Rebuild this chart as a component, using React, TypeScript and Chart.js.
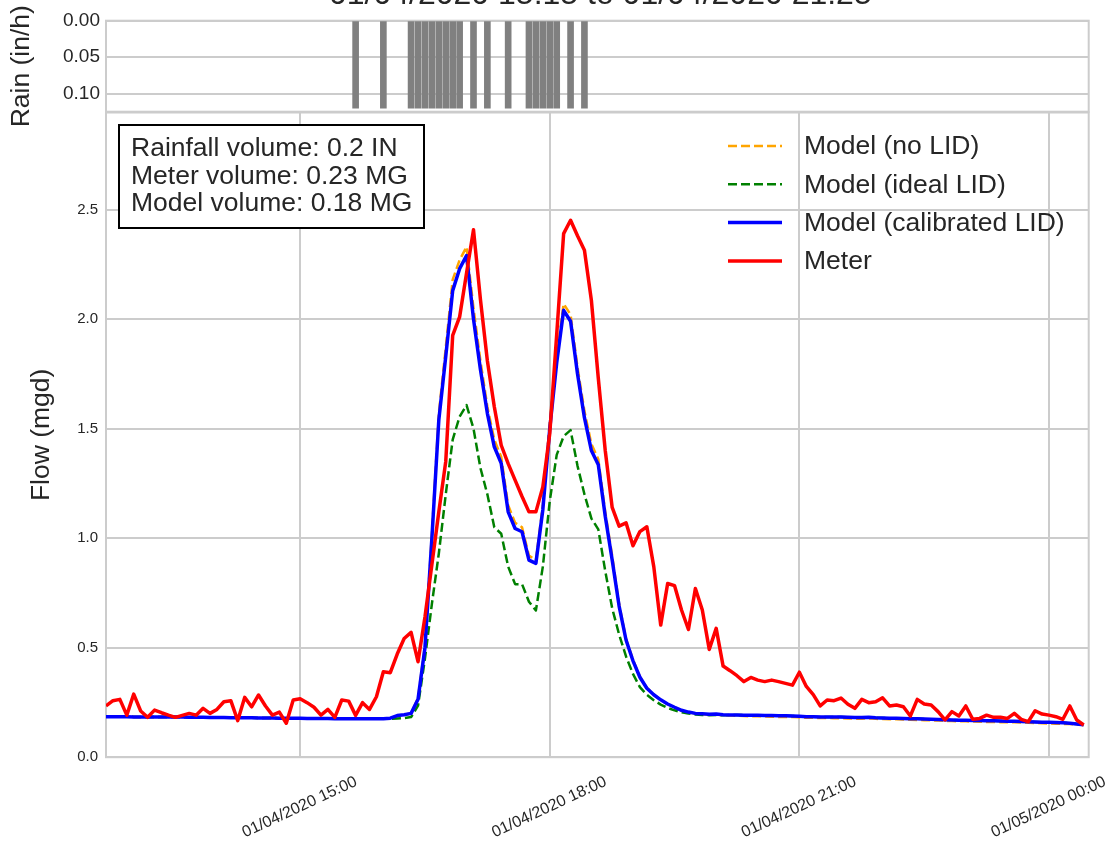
import React, { useEffect, useRef } from "react";
import { Chart, registerables } from "chart.js";

Chart.register(...registerables);

const FONT = "'Liberation Sans', Arial, Helvetica, sans-serif";
const TEXT_COLOR = "#262626";
const GRID_COLOR = "#cccccc";

const titleText = "01/04/2020 15:15 to 01/04/2020 21:25";

// Flow series: 5-minute samples starting 01/04/2020 12:40
const flowStart = "12:40";
const flowStepMinutes = 5;

const meterFlow = [
  0.234, 0.258, 0.264, 0.192, 0.288, 0.211, 0.182, 0.215, 0.203, 0.192,
  0.182, 0.191, 0.200, 0.192, 0.223, 0.200, 0.218, 0.253, 0.258, 0.167,
  0.273, 0.230, 0.284, 0.234, 0.192, 0.206, 0.155, 0.261, 0.267, 0.249,
  0.228, 0.192, 0.218, 0.182, 0.261, 0.256, 0.191, 0.249, 0.218, 0.276,
  0.390, 0.386, 0.471, 0.542, 0.570, 0.436, 0.640, 0.880, 1.120, 1.350,
  1.926, 2.010, 2.210, 2.408, 2.090, 1.810, 1.600, 1.424, 1.340, 1.265,
  1.190, 1.120, 1.120, 1.234, 1.478, 1.930, 2.390, 2.451, 2.380, 2.314,
  2.086, 1.730, 1.400, 1.140, 1.055, 1.070, 0.965, 1.030, 1.052, 0.870,
  0.603, 0.793, 0.783, 0.672, 0.583, 0.770, 0.672, 0.492, 0.588, 0.416,
  0.395, 0.372, 0.345, 0.364, 0.352, 0.345, 0.352, 0.345, 0.337, 0.329,
  0.388, 0.323, 0.286, 0.234, 0.261, 0.258, 0.270, 0.242, 0.223, 0.264,
  0.249, 0.253, 0.271, 0.234, 0.238, 0.230, 0.188, 0.264, 0.243, 0.238,
  0.208, 0.170, 0.208, 0.188, 0.234, 0.173, 0.177, 0.192, 0.182, 0.182,
  0.177, 0.200, 0.173, 0.162, 0.212, 0.197, 0.192, 0.185, 0.173, 0.234,
  0.170, 0.147,
];

const calibratedFlow = [
  0.185, 0.185, 0.185, 0.185, 0.184, 0.184, 0.184, 0.184, 0.183, 0.183,
  0.183, 0.183, 0.182, 0.182, 0.182, 0.181, 0.181, 0.181, 0.180, 0.180,
  0.180, 0.180, 0.179, 0.179, 0.179, 0.178, 0.178, 0.178, 0.178, 0.177,
  0.177, 0.177, 0.177, 0.176, 0.176, 0.176, 0.176, 0.176, 0.175, 0.175,
  0.175, 0.178, 0.190, 0.194, 0.200, 0.265, 0.500, 1.000, 1.540, 1.830,
  2.130, 2.230, 2.290, 2.000, 1.770, 1.570, 1.417, 1.341, 1.120, 1.044,
  1.029, 0.900, 0.885, 1.130, 1.500, 1.800, 2.040, 1.990, 1.750, 1.550,
  1.400, 1.335, 1.100, 0.900, 0.690, 0.535, 0.440, 0.365, 0.315, 0.285,
  0.262, 0.243, 0.228, 0.214, 0.206, 0.200, 0.198, 0.196, 0.197, 0.194,
  0.193, 0.193, 0.192, 0.191, 0.191, 0.190, 0.190, 0.189, 0.189, 0.188,
  0.187, 0.185, 0.185, 0.184, 0.184, 0.183, 0.183, 0.182, 0.181, 0.181,
  0.182, 0.180, 0.179, 0.178, 0.178, 0.177, 0.176, 0.175, 0.174, 0.173,
  0.172, 0.171, 0.170, 0.169, 0.169, 0.168, 0.167, 0.166, 0.166, 0.165,
  0.164, 0.164, 0.163, 0.162, 0.161, 0.160, 0.159, 0.158, 0.157, 0.155,
  0.152, 0.148,
];

const idealFlow = [
  0.185, 0.185, 0.185, 0.185, 0.184, 0.184, 0.184, 0.184, 0.183, 0.183,
  0.183, 0.183, 0.182, 0.182, 0.182, 0.181, 0.181, 0.181, 0.180, 0.180,
  0.180, 0.180, 0.179, 0.179, 0.179, 0.178, 0.178, 0.178, 0.178, 0.177,
  0.177, 0.177, 0.177, 0.176, 0.176, 0.176, 0.176, 0.176, 0.175, 0.175,
  0.175, 0.175, 0.177, 0.179, 0.183, 0.235, 0.450, 0.700, 0.930, 1.200,
  1.450, 1.555, 1.607, 1.500, 1.320, 1.200, 1.050, 1.020, 0.870, 0.790,
  0.790, 0.710, 0.670, 0.870, 1.170, 1.380, 1.465, 1.493, 1.330, 1.200,
  1.090, 1.040, 0.850, 0.680, 0.560, 0.460, 0.380, 0.320, 0.285, 0.260,
  0.240, 0.225, 0.214, 0.205, 0.199, 0.195, 0.193, 0.192, 0.193, 0.191,
  0.193, 0.193, 0.192, 0.191, 0.191, 0.190, 0.190, 0.189, 0.189, 0.188,
  0.187, 0.185, 0.185, 0.184, 0.184, 0.183, 0.183, 0.182, 0.181, 0.181,
  0.182, 0.180, 0.179, 0.178, 0.178, 0.177, 0.176, 0.175, 0.174, 0.173,
  0.172, 0.171, 0.170, 0.169, 0.169, 0.168, 0.167, 0.166, 0.166, 0.165,
  0.164, 0.164, 0.163, 0.162, 0.161, 0.160, 0.159, 0.158, 0.157, 0.155,
  0.152, 0.148,
];

const noLidFlow = [
  0.185, 0.185, 0.185, 0.185, 0.184, 0.184, 0.184, 0.184, 0.183, 0.183,
  0.183, 0.183, 0.182, 0.182, 0.182, 0.181, 0.181, 0.181, 0.180, 0.180,
  0.180, 0.180, 0.179, 0.179, 0.179, 0.178, 0.178, 0.178, 0.178, 0.177,
  0.177, 0.177, 0.177, 0.176, 0.176, 0.176, 0.176, 0.176, 0.175, 0.175,
  0.175, 0.178, 0.188, 0.193, 0.200, 0.270, 0.510, 1.020, 1.570, 1.870,
  2.180, 2.270, 2.330, 2.050, 1.810, 1.600, 1.450, 1.370, 1.150, 1.070,
  1.050, 0.920, 0.900, 1.150, 1.530, 1.830, 2.070, 2.020, 1.780, 1.580,
  1.430, 1.360, 1.120, 0.920, 0.700, 0.540, 0.445, 0.368, 0.317, 0.286,
  0.262, 0.242, 0.227, 0.213, 0.205, 0.199, 0.196, 0.194, 0.194, 0.192,
  0.190, 0.189, 0.188, 0.187, 0.187, 0.186, 0.185, 0.184, 0.184, 0.183,
  0.182, 0.180, 0.180, 0.179, 0.179, 0.178, 0.178, 0.177, 0.176, 0.176,
  0.177, 0.175, 0.174, 0.173, 0.173, 0.172, 0.171, 0.170, 0.169, 0.168,
  0.167, 0.166, 0.165, 0.164, 0.164, 0.163, 0.162, 0.161, 0.161, 0.160,
  0.159, 0.159, 0.158, 0.157, 0.156, 0.155, 0.154, 0.153, 0.152, 0.151,
  0.149, 0.147,
];

// Rain (in/h) at 5-minute timestamps
const rainTimes = [
  "15:40", "16:00", "16:20", "16:25", "16:30", "16:35", "16:40", "16:45", "16:50", "16:55",
  "17:05", "17:15", "17:30", "17:45", "17:50", "17:55", "18:00", "18:05", "18:15", "18:25",
];
const rainIntensity = [
  0.12, 0.12, 0.12, 0.12, 0.12, 0.12, 0.12, 0.12, 0.12, 0.12,
  0.12, 0.12, 0.12, 0.12, 0.12, 0.12, 0.12, 0.12, 0.12, 0.12,
];

const xTickHours = [15, 18, 21, 24];
const xTickLabels = ["01/04/2020 15:00", "01/04/2020 18:00", "01/04/2020 21:00", "01/05/2020 00:00"];
const flowTicks = [0, 0.5, 1.0, 1.5, 2.0, 2.5];
const rainTicks = [0, 0.05, 0.1];

const seriesLabels = ["Model (no LID)", "Model (ideal LID)", "Model (calibrated LID)", "Meter"];
const annotationLines = ["Rainfall volume: 0.2 IN", "Meter volume: 0.23 MG", "Model volume: 0.18 MG"];

const XMIN = 12 + 40 / 60;
const XMAX = 24.477;
const FLOW_MAX = 2.943;
const RAIN_MAX = 0.1247;

const BIG = 26.5;

function toHours(t: string): number {
  const [h, m] = t.split(":").map(Number);
  return h + m / 60;
}

function flowPoints(values: number[]) {
  const t0 = toHours(flowStart);
  return values.map((v, i) => ({ x: t0 + (i * flowStepMinutes) / 60, y: v }));
}

const framePlugin = {
  id: "frame",
  beforeDatasetsDraw(chart: any) {
    const { ctx, chartArea } = chart;
    ctx.save();
    ctx.strokeStyle = GRID_COLOR;
    ctx.lineWidth = 2;
    ctx.strokeRect(chartArea.left, chartArea.top, chartArea.right - chartArea.left, chartArea.bottom - chartArea.top);
    ctx.restore();
  },
};

const titlePlugin = {
  id: "cutTitle",
  afterDraw(chart: any) {
    const { ctx, chartArea } = chart;
    ctx.save();
    ctx.fillStyle = TEXT_COLOR;
    ctx.font = `32px ${FONT}`;
    ctx.textAlign = "center";
    ctx.textBaseline = "alphabetic";
    ctx.fillText(titleText, (chartArea.left + chartArea.right) / 2 + 3, 3.5);
    ctx.restore();
  },
};

const annotationPlugin = {
  id: "volumeBox",
  afterDatasetsDraw(chart: any) {
    const { ctx } = chart;
    ctx.save();
    ctx.fillStyle = "#ffffff";
    ctx.fillRect(119, 125, 305, 103);
    ctx.strokeStyle = "#000000";
    ctx.lineWidth = 2;
    ctx.strokeRect(119, 125, 305, 103);
    ctx.fillStyle = TEXT_COLOR;
    ctx.font = `${BIG}px ${FONT}`;
    ctx.textAlign = "left";
    ctx.textBaseline = "alphabetic";
    annotationLines.forEach((line, k) => {
      ctx.fillText(line, 131, 155.7 + k * 27.8);
    });
    ctx.restore();
  },
};

const legendPlugin = {
  id: "mplLegend",
  afterDraw(chart: any) {
    const { ctx } = chart;
    ctx.save();
    seriesLabels.forEach((label, k) => {
      const ds = chart.data.datasets.find((d: any) => d.label === label);
      if (!ds) return;
      const y = 146 + k * 38.3;
      ctx.beginPath();
      ctx.setLineDash(ds.borderDash || []);
      ctx.strokeStyle = ds.borderColor;
      ctx.lineWidth = ds.borderWidth;
      ctx.lineCap = "butt";
      ctx.moveTo(728, y);
      ctx.lineTo(782, y);
      ctx.stroke();
      ctx.setLineDash([]);
      ctx.fillStyle = TEXT_COLOR;
      ctx.font = `${BIG}px ${FONT}`;
      ctx.textAlign = "left";
      ctx.textBaseline = "middle";
      ctx.fillText(label, 804, y + 1);
    });
    ctx.restore();
  },
};

export default function App() {
  const rainRef = useRef<HTMLCanvasElement | null>(null);
  const flowRef = useRef<HTMLCanvasElement | null>(null);

  useEffect(() => {
    document.body.style.margin = "0";
    document.documentElement.style.overflow = "hidden";
    Chart.defaults.font.family = FONT;

    const rainChart = new Chart(rainRef.current as HTMLCanvasElement, {
      type: "bar",
      data: {
        datasets: [
          {
            label: "Rain",
            data: rainTimes.map((t, i) => ({ x: toHours(t), y: rainIntensity[i] })),
            backgroundColor: "#808080",
            borderWidth: 0,
            barThickness: 6,
          },
        ],
      },
      options: {
        animation: false,
        responsive: false,
        devicePixelRatio: 1,
        layout: { padding: { left: 0, top: 20.7, right: 27.3, bottom: 842 - 111.7 } },
        plugins: { legend: { display: false }, tooltip: { enabled: false } },
        scales: {
          x: { type: "linear", min: XMIN, max: XMAX, display: false, offset: false },
          y: {
            type: "linear",
            reverse: true,
            min: 0,
            max: RAIN_MAX,
            bounds: "data",
            afterFit: (s: any) => { s.width = 106; },
            afterBuildTicks: (s: any) => { s.ticks = rainTicks.map((v) => ({ value: v })); },
            ticks: {
              color: TEXT_COLOR,
              font: { family: FONT, size: 19 },
              padding: 6,
              callback: (v: any) => Number(v).toFixed(2),
            },
            grid: { color: GRID_COLOR, lineWidth: 2, drawTicks: false },
            border: { display: false },
            title: {
              display: true,
              text: "Rain (in/h)",
              color: TEXT_COLOR,
              font: { family: FONT, size: BIG },
              padding: { top: 6, bottom: 0 },
            },
          },
        },
      } as any,
      plugins: [framePlugin],
    });

    const flowChart = new Chart(flowRef.current as HTMLCanvasElement, {
      type: "line",
      data: {
        datasets: [
          {
            label: seriesLabels[0],
            data: flowPoints(noLidFlow),
            borderColor: "#ffa500",
            borderWidth: 2.5,
            borderDash: [9, 4],
            order: 3,
          },
          {
            label: seriesLabels[1],
            data: flowPoints(idealFlow),
            borderColor: "#008000",
            borderWidth: 2.5,
            borderDash: [9, 4],
            order: 2,
          },
          {
            label: seriesLabels[2],
            data: flowPoints(calibratedFlow),
            borderColor: "#0000ff",
            borderWidth: 3.5,
            order: 1,
          },
          {
            label: seriesLabels[3],
            data: flowPoints(meterFlow),
            borderColor: "#ff0000",
            borderWidth: 3.5,
            order: 0,
          },
        ],
      },
      options: {
        animation: false,
        responsive: false,
        devicePixelRatio: 1,
        layout: { padding: { left: 0, top: 112.5, right: 27.3, bottom: 0 } },
        elements: {
          point: { radius: 0, hoverRadius: 0 },
          line: { tension: 0, borderJoinStyle: "round", borderCapStyle: "butt", fill: false },
        },
        plugins: { legend: { display: false }, tooltip: { enabled: false } },
        scales: {
          x: {
            type: "linear",
            min: XMIN,
            max: XMAX,
            bounds: "data",
            afterBuildTicks: (s: any) => { s.ticks = xTickHours.map((v) => ({ value: v })); },
            afterFit: (s: any) => { s.height = 84.8; },
            ticks: {
              autoSkip: false,
              minRotation: 25,
              maxRotation: 25,
              labelOffset: 56,
              padding: 15,
              color: TEXT_COLOR,
              font: { family: FONT, size: 16 },
              callback: (v: any) => {
                const idx = xTickHours.indexOf(Number(v));
                return idx >= 0 ? xTickLabels[idx] : "";
              },
            },
            grid: { color: GRID_COLOR, lineWidth: 2, drawTicks: false },
            border: { display: false },
          },
          y: {
            type: "linear",
            min: 0,
            max: FLOW_MAX,
            bounds: "data",
            afterFit: (s: any) => { s.width = 106; },
            afterBuildTicks: (s: any) => { s.ticks = flowTicks.map((v) => ({ value: v })); },
            ticks: {
              color: TEXT_COLOR,
              font: { family: FONT, size: 15 },
              padding: 8,
              callback: (v: any) => Number(v).toFixed(1),
            },
            grid: { color: GRID_COLOR, lineWidth: 2, drawTicks: false },
            border: { display: false },
            title: {
              display: true,
              text: "Flow (mgd)",
              color: TEXT_COLOR,
              font: { family: FONT, size: BIG },
              padding: { top: 26, bottom: 0 },
            },
          },
        },
      } as any,
      plugins: [framePlugin, annotationPlugin, legendPlugin, titlePlugin],
    });

    return () => {
      rainChart.destroy();
      flowChart.destroy();
    };
  }, []);

  return (
    <div style={{ position: "absolute", left: 0, top: 0, width: 1116, height: 842, background: "#ffffff", overflow: "hidden" }}>
      <canvas ref={rainRef} width={1116} height={842} style={{ position: "absolute", left: 0, top: 0 }} />
      <canvas ref={flowRef} width={1116} height={842} style={{ position: "absolute", left: 0, top: 0 }} />
    </div>
  );
}
